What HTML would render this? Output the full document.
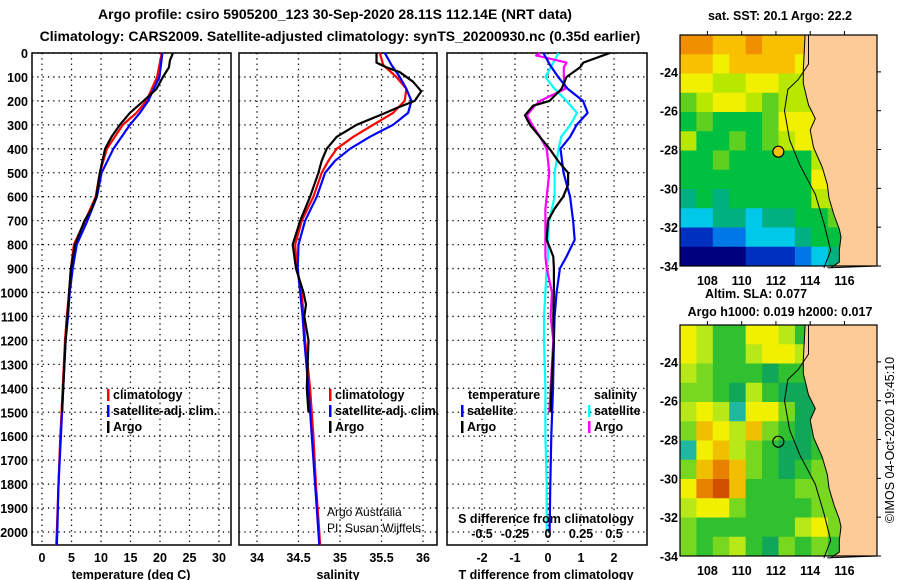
<!DOCTYPE html>
<html><head><meta charset="utf-8"><style>
body{margin:0;background:#fff}
svg{display:block;font-family:"Liberation Sans",sans-serif}
.b{font-weight:bold;font-size:12.5px}
</style></head><body>
<svg id="c" width="900" height="580" viewBox="0 0 900 580">
<text x="335" y="19" text-anchor="middle" style="font-weight:bold;font-size:14px">Argo profile: csiro 5905200_123 30-Sep-2020 28.11S 112.14E (NRT data)</text>
<text x="340" y="41" text-anchor="middle" style="font-weight:bold;font-size:14px">Climatology: CARS2009. Satellite-adjusted climatology: synTS_20200930.nc (0.35d earlier)</text>
</svg>
<script>
// ---- profile data ----
const depthsT = [0,100,200,250,300,400,500,600,700,800,900,1000,1100,1200,1400,1600,1800,2000,2054];
const tempClim = [20.3,19.5,17.7,16,13.7,11,9.8,9.1,7.3,5.4,4.9,4.6,4.2,3.9,3.5,3.1,2.8,2.5,2.4];
const tempSat  = [20.4,19.9,18,16.6,14.9,12.1,10.1,9.3,7.7,5.9,5.2,4.7,4.4,4.0,3.6,3.2,2.8,2.6,2.5];
const depthsArgoT = [0,30,60,100,150,200,250,300,350,400,500,600,650,700,800,900,1000,1100,1200,1400,1500];
const tempArgo = [22.2,21.7,21.5,20.5,19.4,17.2,14.9,13.2,11.8,10.7,9.8,9.2,8.4,7.2,5.6,4.9,4.6,4.3,4.0,3.6,3.4];
const depthsS = [0,50,100,150,200,250,300,350,400,450,500,600,700,800,900,1000,1100,1200,1400,1600,1800,2000,2054];
const salClim = [35.48,35.52,35.68,35.80,35.78,35.64,35.40,35.16,34.96,34.86,34.78,34.68,34.54,34.46,34.48,34.54,34.56,34.58,34.64,34.68,34.71,34.75,34.76];
const salSat  = [35.54,35.62,35.72,35.80,35.86,35.82,35.64,35.36,35.12,34.94,34.82,34.72,34.58,34.50,34.49,34.52,34.55,34.57,34.62,34.66,34.70,34.74,34.75];
const depthsArgoS = [0,40,60,80,120,160,200,230,260,300,350,400,450,500,600,700,800,900,1000,1050,1100,1200,1400,1500];
const salArgo = [35.44,35.44,35.56,35.72,35.88,35.98,35.90,35.68,35.48,35.20,34.96,34.84,34.78,34.74,34.64,34.52,34.43,34.47,34.56,34.59,34.57,34.62,34.60,34.62];
const depthsD = [0,50,100,150,200,250,300,350,400,500,600,700,780,850,900,1000,1100,1200,1400,1600,1800,2000];
const dTsat = [-0.14,0.06,0.31,0.6,1.06,1.2,0.87,0.67,0.38,0.47,0.67,0.76,0.81,0.56,0.36,0.26,0.2,0.18,0.15,0.1,0.07,0.05];
const dSsat = [0.08,0.03,-0.02,0.05,0.14,0.22,0.17,0.10,0.08,0.05,0.05,0.01,0,0,-0.01,-0.02,-0.03,-0.03,-0.02,-0.02,-0.01,-0.01];
const depthsDA = [0,10,40,60,100,150,200,220,260,300,350,400,450,500,550,600,650,700,780,850,900,1000,1100,1200,1400,1500];
const dTargo = [1.88,1.67,1.07,0.97,0.56,0.41,0.05,-0.45,-0.7,-0.55,-0.25,0.05,0.3,0.61,0.61,0.46,0.2,0,-0.04,0.16,0.18,0.18,0.16,0.18,0.1,0.08];
const dSargo = [-0.06,-0.09,0.14,0.12,0.12,0.13,-0.06,-0.1,-0.16,-0.12,-0.06,-0.01,0,0.01,0.0,-0.01,-0.02,-0.02,-0.02,-0.02,-0.01,0.03,0.02,0.04,0.02,0.01];
const depthTicks = [0,100,200,300,400,500,600,700,800,900,1000,1100,1200,1300,1400,1500,1600,1700,1800,1900,2000];
const tempTicks = [0,5,10,15,20,25,30];
const salTicks = [34,34.5,35,35.5,36];
const tdTicks = [-2,-1,0,1,2];
const sdTicks = [-0.5,-0.25,0,0.25,0.5];
// ---- map data (colour index grids, rows north->south) ----
const sstGrid = [
[10,10,9,9,10,9,9,9,10,11,11,11],[9,9,8,9,9,9,9,8,9,9,9,9],[8,8,7,7,8,8,7,7,8,9,9,9],
[6,7,8,8,7,6,7,7,8,8,8,8],[5,6,5,5,5,6,8,8,8,8,6,6],[7,5,5,6,5,6,7,8,8,8,6,6],
[5,5,6,5,5,5,5,5,7,8,5,5],[5,5,5,5,5,5,5,5,8,7,5,5],[4,5,4,5,5,5,5,5,7,7,5,5],
[3,3,4,4,3,4,4,5,5,6,5,5],[1,1,2,2,3,3,3,4,5,5,5,5],[0,0,0,0,1,1,1,2,3,4,5,5]];
const slaGrid = [
[6,5,3,3,6,6,5,3,3,3,3,3],[6,5,3,3,5,6,6,5,3,3,3,3],[5,4,3,3,3,2,3,3,4,3,3,3],
[4,4,3,2,5,3,2,2,3,3,3,3],[5,6,5,1,6,6,4,2,2,3,3,3],[4,7,6,5,7,4,3,2,3,3,3,3],
[1,6,7,5,4,3,2,2,3,4,3,3],[4,7,8,7,4,3,2,3,4,4,3,3],[6,8,9,7,3,3,3,4,4,4,3,3],
[5,6,6,4,3,3,3,3,4,4,3,3],[4,3,3,3,3,3,3,5,6,4,3,3],[4,3,4,5,3,2,4,3,4,3,3,3]];
const latTicks = [-24,-26,-28,-30,-32,-34];
const lonTicks = [108,110,112,114,116];
const coastLL = [[113.7,-22.1],[113.6,-23.9],[113.6,-24.6],[113.9,-25.7],[114.3,-26.4],[114.0,-27.0],[114.2,-27.9],[114.7,-28.9],[115.0,-29.8],[115.1,-30.5],[115.4,-31.4],[115.7,-32.1],[115.8,-32.5],[115.7,-33.2],[115.7,-33.8],[115.2,-34.1],[115.0,-34.1]];
const shelfLL = [[113.9,-22.1],[113.9,-23.6],[113.3,-24.4],[112.7,-24.9],[112.5,-26.0],[112.8,-27.5],[113.4,-28.8],[114.3,-30.3],[114.8,-31.8],[115.2,-33.2],[114.8,-34.1]];
const floatLon = 112.14, floatLat = -28.11;

const NS='http://www.w3.org/2000/svg', svg=document.getElementById('c');
function el(t,a,p){const e=document.createElementNS(NS,t);for(const k in a)e.setAttribute(k,a[k]);(p||svg).appendChild(e);return e;}
function txt(x,y,s,a,cls,p){const e=el('text',Object.assign({x:x,y:y,class:cls||'b'},a||{}),p);e.textContent=s;return e;}
const pTop=53,pBot=545;
const yD=d=>pTop+d*0.2395;
const xT=v=>42+v*5.9, xS=v=>257+(v-34)*83, xDT=v=>548+v*33, xDS=v=>548+v*132;

function panel(name,x0,x1,ticks,xf){
  const g=el('g',{});
  
  
  ticks.forEach(t=>{const l=el('line',{x1:xf(t),x2:xf(t),y1:pTop,y2:pBot,stroke:'#000','stroke-dasharray':'1.3 4','stroke-width':1.3},g);});
  depthTicks.forEach(d=>{const l=el('line',{x1:x0,x2:x1,y1:yD(d),y2:yD(d),stroke:'#000','stroke-dasharray':'1.3 4','stroke-width':1.3},g);});
  const r=el('rect',{x:x0,y:pTop,width:x1-x0,height:pBot-pTop,fill:'none',stroke:'#000','stroke-width':1.5},g);
  
  return g;
}
function line(g,ds,vs,xf,col,name){
  const pts=ds.map((d,i)=>xf(vs[i]).toFixed(1)+','+yD(d).toFixed(1)).join(' ');
  const p=el('polyline',{points:pts,fill:'none',stroke:col,'stroke-width':2.2,'stroke-linejoin':'round'},g);
  
  
}
const p1=panel('temperature-panel',32,231,tempTicks,xT);
const p2=panel('salinity-panel',239,437,salTicks,xS);
const p3=panel('difference-panel',447,647,tdTicks,xDT);
line(p1,depthsT,tempClim,xT,'#ff0000','temp-climatology-line');
line(p1,depthsT,tempSat,xT,'#0000ff','temp-satellite-line');
line(p1,depthsArgoT,tempArgo,xT,'#000000','temp-argo-line');
line(p2,depthsS,salClim,xS,'#ff0000','sal-climatology-line');
line(p2,depthsS,salSat,xS,'#0000ff','sal-satellite-line');
line(p2,depthsArgoS,salArgo,xS,'#000000','sal-argo-line');
line(p3,depthsD,dSsat,xDS,'#00ffff','sdiff-satellite-line');
line(p3,depthsDA,dSargo,xDS,'#ff00ff','sdiff-argo-line');
line(p3,depthsD,dTsat,xDT,'#0000ff','tdiff-satellite-line');
line(p3,depthsDA,dTargo,xDT,'#000000','tdiff-argo-line');

depthTicks.forEach(d=>{const t=txt(28,yD(d)+5,String(d),{'text-anchor':'end'});});
tempTicks.forEach(v=>{const t=txt(xT(v),562,String(v),{'text-anchor':'middle'});});
salTicks.forEach(v=>{const t=txt(xS(v),562,String(v),{'text-anchor':'middle'});});
tdTicks.forEach(v=>{const t=txt(xDT(v),562,String(v),{'text-anchor':'middle'});});
sdTicks.forEach(v=>{const t=txt(xDS(v),538,String(v),{'text-anchor':'middle'});});
[[131,'temperature (deg C)','temp-axis-title'],[338,'salinity','sal-axis-title'],[546,'T difference from climatology','tdiff-axis-title']].forEach(a=>{const t=txt(a[0],579,a[1],{'text-anchor':'middle'});});
{const t=txt(546,523,'S difference from climatology',{'text-anchor':'middle'});}

function legend(x,y,col,label){
  const m=el('rect',{x:x,y:y-10,width:2.5,height:12,fill:col});
  
  const t=txt(x+6,y,label);
}
legend(107,399,'#ff0000','climatology');legend(107,415,'#0000ff','satellite-adj. clim.');legend(107,431,'#000','Argo');
legend(329,399,'#ff0000','climatology');legend(329,415,'#0000ff','satellite-adj. clim.');legend(329,431,'#000','Argo');
{const t=txt(468,399,'temperature');}
{const t=txt(594,399,'salinity');}
legend(461,415,'#0000ff','satellite');legend(461,431,'#000','Argo');
legend(588,415,'#00ffff','satellite');legend(588,431,'#ff00ff','Argo');
{const t=txt(327,516,'Argo Australia',{style:'font-weight:normal;font-size:12px'});}
{const t=txt(327,532,'PI: Susan Wijffels',{style:'font-weight:normal;font-size:12px'});}

// ---- maps ----
const sstCols=['#00007f','#0030c0','#0078e8','#00c8e8','#00b080','#00c040','#60d020','#b8e800','#f0f000','#f8c000','#f09000','#d86000'];
const slaCols=['#20b8a0','#20b8a0','#10a858','#30c030','#78d820','#b8e818','#f0f000','#f0c000','#e88000','#d05000'];
const mx0=680,mx1=877,lon0=106.4,lon1=117.9,latT=-22.1,latB=-34;
function map(name,y0,grid,cols,markerFill,title1,title2){
  const y1=y0+231;
  const mX=lon=>mx0+(lon-lon0)/(lon1-lon0)*(mx1-mx0);
  const mY=lat=>y0+(latT-lat)/(latT-latB)*(y1-y0);
  const g=el('g',{});
  
  const nr=grid.length,nc=grid[0].length,cw=(mx1-mx0)/nc,ch=(y1-y0)/nr;
  grid.forEach((row,r)=>row.forEach((v,c)=>{const e=el('rect',{x:mx0+c*cw,y:y0+r*ch,width:cw+0.5,height:ch+0.5,fill:cols[v]},g);}));
  const land=coastLL.map(p=>mX(p[0]).toFixed(1)+','+mY(p[1]).toFixed(1));
  const lp=el('polygon',{points:land.join(' ')+' '+mx1+','+y1+' '+mx1+','+y0,fill:'#fccb97',stroke:'#000','stroke-width':1},g);
  
  const sh=el('polyline',{points:shelfLL.map(p=>mX(p[0]).toFixed(1)+','+mY(p[1]).toFixed(1)).join(' '),fill:'none',stroke:'#000','stroke-width':1},g);
  
  const fr=el('rect',{x:mx0,y:y0,width:mx1-mx0,height:y1-y0,fill:'none',stroke:'#000','stroke-width':1.2},g);
  
  const fc=el('circle',{cx:mX(floatLon),cy:mY(floatLat),r:5.5,fill:markerFill,stroke:'#000','stroke-width':1.2},g);
  
  latTicks.forEach(l=>{const t=txt(678,mY(l)+5,String(l),{'text-anchor':'end'});
    el('line',{x1:mx1,x2:mx1+4,y1:mY(l),y2:mY(l),stroke:'#000'},g);});
  lonTicks.forEach(l=>{const t=txt(mX(l),y1+19,String(l),{'text-anchor':'middle'});
    el('line',{x1:mX(l),x2:mX(l),y1:y0-4,y2:y0,stroke:'#000'},g);});
  if(title1){const t=txt(780,y0-15,title1,{'text-anchor':'middle'});}
  if(title2){const t=txt(780,y0-9,title2,{'text-anchor':'middle'});}
}
map('sst-map',35,sstGrid,sstCols,'#f8c000','sat. SST: 20.1 Argo: 22.2',null);
map('sla-map',325,slaGrid,slaCols,'none',null,'Argo h1000: 0.019 h2000: 0.017');
{const t=txt(756,298,'Altim. SLA: 0.077',{'text-anchor':'middle'});}
{const t=txt(0,0,'©IMOS 04-Oct-2020 19:45:10',{'text-anchor':'middle',transform:'translate(894,440) rotate(-90)',style:'font-weight:normal;font-size:12.5px'});}
</script>
</body></html>
